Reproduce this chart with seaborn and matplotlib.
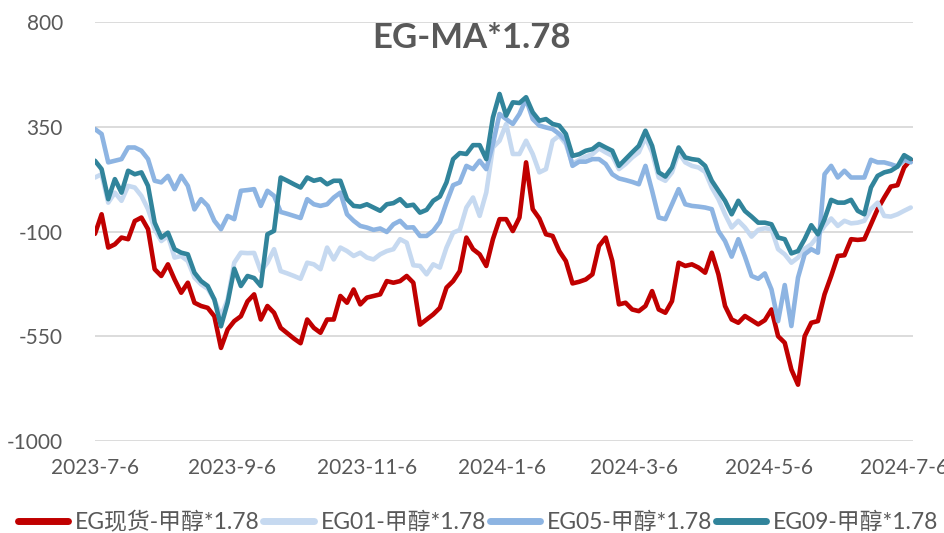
import matplotlib
matplotlib.use("Agg")
import matplotlib.pyplot as plt
from matplotlib.lines import Line2D
import pandas as pd
import seaborn as sns

sns.set_theme(style="white")
plt.rcParams["font.family"] = ["Lato", "Noto Sans CJK SC", "DejaVu Sans"]
plt.rcParams["lines.solid_joinstyle"] = "round"
plt.rcParams["lines.solid_capstyle"] = "round"

title = "EG-MA*1.78"
series_names = ["EG现货-甲醇*1.78", "EG01-甲醇*1.78", "EG05-甲醇*1.78", "EG09-甲醇*1.78"]
colors = ["#C00000", "#C6D9F0", "#8DB4E2", "#31849B"]

x_tick_labels = ["2023-7-6", "2023-9-6", "2023-11-6", "2024-1-6", "2024-3-6", "2024-5-6", "2024-7-6"]
x_tick_dates = ["2023-07-06", "2023-09-06", "2023-11-06", "2024-01-06", "2024-03-06", "2024-05-06", "2024-07-06"]
y_ticks = [-1000, -550, -100, 350, 800]

eg_spot = [
    -110, -26, -169, -155, -126, -133, -55, -40, -90, -262,
    -291, -241, -306, -363, -320, -406, -420, -428, -464, -600,
    -521, -485, -464, -400, -370, -478, -420, -449, -514, -537,
    -560, -580, -478, -514, -535, -478, -478, -377, -406, -349,
    -413, -384, -377, -370, -313, -320, -313, -291, -320, -500,
    -478, -456, -428, -341, -313, -270, -126, -176, -198, -248,
    -133, -47, -47, -98, -40, 197, -4, -44, -112, -119,
    -184, -227, -323, -316, -306, -284, -162, -126, -227, -413,
    -406, -435, -442, -420, -356, -435, -449, -399, -234, -248,
    -241, -255, -277, -191, -284, -420, -478, -492, -463, -481,
    -499, -481, -435, -550, -578, -693, -758, -550, -492, -485,
    -370, -291, -205, -202, -133, -136, -133, -69, -4, 46,
    93, 99, 175, 208,
]
eg01 = [
    132, 146, 24, 67, 32, 96, 89, 53, -4, -90,
    -141, -119, -212, -205, -227, -298, -327, -346, -392, -464,
    -392, -234, -191, -193, -192, -270, -234, -176, -270, -280,
    -291, -303, -234, -241, -262, -169, -220, -169, -184, -205,
    -191, -212, -220, -198, -184, -176, -133, -148, -245, -248,
    -284, -241, -255, -169, -105, -93, 3, 46, -33, 68,
    261, 290, 362, 233, 233, 290, 233, 154, 168, 290,
    312, 276, 190, 208, 222, 232, 257, 240, 225, 168,
    190, 218, 240, 304, 240, 132, 118, 154, 240, 197,
    182, 175, 156, 89, 39, -26, -83, -54, -83, -122,
    -93, -86, -90, -176, -198, -234, -212, -174, -155, -119,
    -76, -44, -76, -54, -65, -62, -54, -4, 24, -33,
    -36, -26, -11, 3,
]
eg05 = [
    340, 319, 197, 204, 211, 261, 261, 247, 211, 118,
    111, 139, 82, 139, 96, -5, 39, 10, -54, -90,
    -33, -47, 75, 78, 82, 10, 75, 53, -16, -24,
    -33, -42, 39, 17, 10, 17, 46, 67, -26, -54,
    -76, -83, -93, -87, -102, -69, -54, -83, -82, -119,
    -119, -97, -59, 24, 99, 111, 182, 168, 204, 168,
    276, 405, 383, 362, 405, 469, 383, 355, 347, 340,
    319, 290, 182, 200, 200, 211, 211, 190, 146, 128,
    121, 113, 103, 182, 75, -40, -47, 17, 82, 17,
    10, 7, 3, -4, -98, -141, -208, -133, -208, -291,
    -303, -280, -349, -485, -330, -506, -298, -198, -176, -191,
    146, 182, 132, 161, 132, 132, 132, 208, 197, 197,
    189, 179, 208, 197,
]
eg09 = [
    204, 168, 39, 125, 67, 161, 146, 154, 96, -62,
    -126, -105, -176, -191, -198, -277, -313, -334, -392, -507,
    -406, -260, -334, -291, -300, -334, -112, -97, 132, 118,
    103, 89, 132, 118, 125, 103, 118, 118, 39, 10,
    7, 17, 3, -11, 17, 22, 39, 10, 15, -19,
    -7, 32, 50, 111, 211, 237, 233, 271, 271, 211,
    390, 491, 398, 455, 452, 477, 412, 376, 383, 362,
    355, 319, 225, 232, 247, 254, 276, 261, 247, 182,
    211, 240, 268, 333, 268, 154, 136, 175, 261, 218,
    211, 207, 182, 118, 75, 32, -26, 32, -12, -36,
    -62, -62, -69, -126, -133, -194, -184, -133, -73, -112,
    -47, 36, 24, 24, 36, -11, -26, 89, 139, 154,
    161, 179, 228, 211,
]

dates = pd.date_range("2023-07-06", periods=len(eg_spot), freq="3D")
wide = pd.DataFrame({"date": dates, series_names[0]: eg_spot, series_names[1]: eg01,
                     series_names[2]: eg05, series_names[3]: eg09})
long = wide.melt(id_vars="date", var_name="series", value_name="value")

fig = plt.figure(figsize=(9.45, 5.33), dpi=100)
ax = fig.add_axes([0.1005, 0.1726, 0.8656, 0.7861])

sns.lineplot(data=long, x="date", y="value", hue="series", hue_order=series_names,
             palette=colors, linewidth=3.3, estimator=None, legend=False, ax=ax)

ax.set_ylim(-1000, 800)
ax.set_yticks(y_ticks)
ax.set_yticklabels([str(v) for v in y_ticks])
ax.set_xticks(pd.to_datetime(x_tick_dates))
ax.set_xticklabels(x_tick_labels)
ax.set_xlim(pd.Timestamp("2023-07-06"), pd.Timestamp("2024-07-10"))
ax.set_xlabel("")
ax.set_ylabel("")

ax.yaxis.grid(True, color="#D9D9D9", linewidth=1.3)
ax.xaxis.grid(False)
ax.set_axisbelow(True)
for s in ax.spines.values():
    s.set_visible(False)
ax.tick_params(axis="both", length=0, labelsize=15, labelcolor="#595959")
ax.tick_params(axis="y", pad=23)
ax.tick_params(axis="x", pad=12)

fig.text(0.499, 0.929, title, ha="center", va="center", fontsize=25,
         fontweight="bold", color="#595959")

handles = [Line2D([0], [0], color=c, linewidth=5, solid_capstyle="round") for c in colors]
fig.legend(handles, series_names, loc="center", bbox_to_anchor=(0.506, 0.021), ncol=4,
           frameon=False, fontsize=16.5, labelcolor="#595959", handlelength=2.2,
           handletextpad=0.3, columnspacing=0.15, borderaxespad=0, borderpad=0)

fig.savefig("out.png", dpi=100)
